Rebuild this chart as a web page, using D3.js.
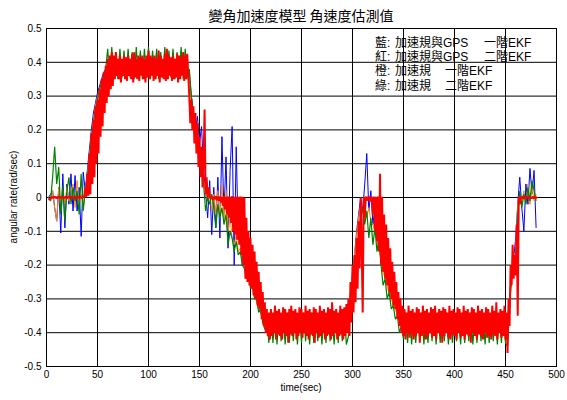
<!DOCTYPE html>
<html>
<head>
<meta charset="utf-8">
<script src="https://cdn.jsdelivr.net/npm/d3@7"></script>
<style>
  body { margin: 0; background: #fff; }
  svg { display: block; }
</style>
</head>
<body>
<div id="chart"></div>
<script>
// ---- data ----
const xTicks = [0, 50, 100, 150, 200, 250, 300, 350, 400, 450, 500];
const xTickLabels = ["0", "50", "100", "150", "200", "250", "300", "350", "400", "450", "500"];
const yTicks = [-0.5, -0.4, -0.3, -0.2, -0.1, 0, 0.1, 0.2, 0.3, 0.4, 0.5];
const yTickLabels = ["-0.5", "-0.4", "-0.3", "-0.2", "-0.1", "0", "0.1", "0.2", "0.3", "0.4", "0.5"];

const titleText = "變角加速度模型 角速度估測值";
const xLabel = "time(sec)";
const yLabel = "angular rate(rad/sec)";
const legendRows = [
  ["藍:", "加速規與GPS", "一階EKF"],
  ["紅:", "加速規與GPS", "二階EKF"],
  ["橙:", "加速規", "一階EKF"],
  ["綠:", "加速規", "二階EKF"]
];

// sample times (sec): red every 1 s, the others every 2 s
const tRed = d3.range(0, 483, 1);
const tSlow = d3.range(0, 481, 2);

// 紅: 加速規與GPS 二階EKF  (t = 0..482, one row per 10 s)
const redRate = [
  null,null,-0.004,-0.006,-0.003,0.002,-0.002,0.003,-0.001,0.002,
  -0.003,0.001,0.003,-0.002,0.002,-0.001,0.003,-0.002,0.001,0.002,
  -0.003,0.002,0.001,-0.002,0.003,-0.001,0.002,-0.003,0.001,0.002,
  -0.002,0.003,-0.001,0.002,0.001,-0.002,0.003,0.004,0.03,0.002,
  0.07,0.005,0.13,0.01,0.19,0.04,0.23,0.06,0.27,0.1,
  0.29,0.13,0.32,0.18,0.35,0.21,0.37,0.25,0.39,0.28,
  0.41,0.3,0.42,0.32,0.43,0.33,0.42,0.35,0.43,0.36,
  0.41,0.35,0.42,0.34,0.41,0.36,0.42,0.35,0.415,0.345,
  0.42,0.36,0.41,0.35,0.425,0.34,0.43,0.355,0.41,0.35,
  0.42,0.345,0.415,0.36,0.42,0.35,0.41,0.34,0.42,0.355,
  0.435,0.35,0.42,0.36,0.415,0.345,0.42,0.35,0.41,0.36,
  0.435,0.34,0.42,0.355,0.41,0.35,0.425,0.345,0.44,0.35,
  0.42,0.36,0.415,0.345,0.42,0.35,0.41,0.355,0.425,0.34,
  0.42,0.35,0.415,0.36,0.43,0.345,0.42,0.35,0.425,0.36,
  0.3,0.22,0.29,0.2,0.27,0.16,0.25,0.13,0.22,0.09,
  0.18,0.06,0.15,0.03,0.11,0.26,0.01,0.06,0.0,0.03,
  0.004,-0.004,0.003,-0.006,0.002,-0.005,0.004,-0.008,0.003,-0.01,
  0.003,-0.015,0.002,-0.025,0.004,-0.035,0.002,-0.05,0.003,-0.06,
  0.002,-0.075,0.004,-0.1,0.002,-0.11,0.003,-0.125,0.002,-0.14,
  0.003,-0.17,0.002,-0.2,0.0,-0.24,-0.06,-0.25,-0.1,-0.26,
  -0.12,-0.27,-0.14,-0.29,-0.16,-0.3,-0.19,-0.32,-0.22,-0.33,
  -0.25,-0.36,-0.28,-0.38,-0.31,-0.4,-0.33,-0.41,-0.34,-0.42,
  -0.33,-0.41,-0.34,-0.4,-0.32,-0.42,-0.335,-0.405,-0.33,-0.41,
  -0.34,-0.42,-0.325,-0.4,-0.33,-0.41,-0.34,-0.43,-0.33,-0.405,
  -0.32,-0.41,-0.335,-0.4,-0.33,-0.42,-0.34,-0.41,-0.325,-0.4,
  -0.33,-0.415,-0.34,-0.4,-0.32,-0.41,-0.335,-0.42,-0.33,-0.405,
  -0.34,-0.41,-0.325,-0.43,-0.33,-0.4,-0.34,-0.415,-0.32,-0.41,
  -0.335,-0.4,-0.33,-0.42,-0.34,-0.41,-0.325,-0.405,-0.33,-0.42,
  -0.31,-0.41,-0.335,-0.4,-0.33,-0.42,-0.34,-0.41,-0.32,-0.405,
  -0.33,-0.42,-0.325,-0.41,-0.315,-0.4,-0.3,-0.41,-0.25,-0.37,
  -0.2,-0.34,-0.17,-0.31,-0.12,-0.27,-0.07,-0.21,0.0,-0.14,
  -0.34,0.002,-0.06,0.003,-0.01,0.002,-0.008,0.003,-0.012,0.002,
  -0.05,0.003,-0.1,0.002,-0.13,0.003,-0.16,0.07,-0.2,0.002,
  -0.22,-0.05,-0.24,-0.08,-0.26,-0.12,-0.28,-0.15,-0.3,-0.19,
  -0.32,-0.22,-0.33,-0.25,-0.36,-0.28,-0.38,-0.3,-0.4,-0.32,
  -0.41,-0.33,-0.42,-0.34,-0.4,-0.32,-0.415,-0.335,-0.405,-0.33,
  -0.42,-0.34,-0.41,-0.325,-0.4,-0.33,-0.43,-0.34,-0.41,-0.32,
  -0.405,-0.335,-0.42,-0.33,-0.41,-0.34,-0.4,-0.325,-0.415,-0.33,
  -0.41,-0.32,-0.42,-0.34,-0.4,-0.33,-0.41,-0.335,-0.43,-0.325,
  -0.41,-0.33,-0.4,-0.34,-0.415,-0.32,-0.42,-0.335,-0.405,-0.33,
  -0.41,-0.34,-0.42,-0.325,-0.4,-0.33,-0.415,-0.34,-0.41,-0.32,
  -0.42,-0.335,-0.405,-0.33,-0.41,-0.34,-0.43,-0.325,-0.4,-0.33,
  -0.41,-0.34,-0.42,-0.32,-0.405,-0.335,-0.41,-0.33,-0.42,-0.34,
  -0.4,-0.325,-0.415,-0.33,-0.41,-0.34,-0.42,-0.32,-0.405,-0.335,
  -0.41,-0.31,-0.42,-0.34,-0.4,-0.33,-0.415,-0.335,-0.41,-0.32,
  -0.42,-0.34,-0.46,-0.3,-0.38,-0.2,-0.26,-0.14,-0.24,-0.17,
  -0.23,-0.08,-0.35,0.003,-0.02,0.002,-0.004,0.003,-0.003,0.002,
  -0.004,0.003,-0.002,0.002,-0.003,0.001,-0.002,0.003,-0.003,0.002,
  -0.002,0.002,null
];

// 藍: 加速規與GPS 一階EKF  (t = 0..480, one row per 20 s)
const blueRate = [
  null,0.0,0.01,0.02,-0.03,-0.07,0.03,-0.105,0.07,-0.09,
  0.04,-0.02,0.07,-0.04,0.065,-0.04,0.03,-0.115,0.075,0.02,
  0.08,0.14,0.2,0.25,0.28,0.31,0.33,0.35,0.37,0.38,
  0.39,0.37,0.41,0.36,0.4,0.38,0.41,0.37,0.39,0.4,
  0.37,0.41,0.38,0.4,0.36,0.41,0.39,0.38,0.4,0.37,
  0.41,0.38,0.4,0.37,0.39,0.41,0.38,0.4,0.37,0.41,
  0.38,0.4,0.37,0.41,0.39,0.38,0.4,0.37,0.41,0.38,
  0.37,0.3,0.25,0.2,0.24,0.16,0.21,0.08,0.02,-0.06,
  0.05,-0.11,0.03,-0.09,0.06,-0.12,0.18,-0.05,0.12,-0.15,
  0.08,0.21,-0.2,0.15,-0.12,-0.06,-0.2,-0.13,-0.22,-0.18,
  -0.26,-0.24,-0.29,-0.3,-0.33,-0.34,-0.36,-0.38,-0.37,-0.39,
  -0.36,-0.38,-0.37,-0.39,-0.36,-0.38,-0.37,-0.39,-0.36,-0.38,
  -0.37,-0.39,-0.36,-0.38,-0.37,-0.39,-0.36,-0.38,-0.37,-0.39,
  -0.36,-0.38,-0.37,-0.39,-0.36,-0.38,-0.37,-0.39,-0.36,-0.38,
  -0.37,-0.39,-0.36,-0.38,-0.37,-0.39,-0.36,-0.38,-0.36,-0.3,
  -0.22,-0.17,-0.1,-0.05,0.0,-0.04,0.04,0.13,-0.04,0.02,
  -0.08,-0.03,-0.12,-0.1,-0.2,-0.2,-0.18,-0.24,-0.25,-0.28,
  -0.3,-0.31,-0.34,-0.35,-0.37,-0.37,-0.38,-0.36,-0.39,-0.37,
  -0.38,-0.36,-0.39,-0.37,-0.38,-0.36,-0.39,-0.37,-0.38,-0.36,
  -0.39,-0.37,-0.38,-0.36,-0.39,-0.37,-0.38,-0.36,-0.39,-0.37,
  -0.38,-0.36,-0.39,-0.37,-0.38,-0.36,-0.39,-0.37,-0.38,-0.36,
  -0.39,-0.37,-0.38,-0.36,-0.39,-0.37,-0.38,-0.36,-0.39,-0.37,
  -0.37,-0.39,-0.36,-0.38,-0.37,-0.4,-0.42,-0.3,-0.22,-0.18,
  -0.12,-0.02,0.06,-0.03,-0.1,0.04,-0.02,0.086,0.01,0.08,
  -0.09
];

// 橙: 加速規 一階EKF
const orangeRate = [
  null,0.0,-0.01,0.02,-0.03,-0.07,0.03,-0.04,0.02,-0.02,
  0.03,-0.01,0.02,0.04,-0.03,0.05,-0.02,0.01,-0.03,0.02,
  0.07,0.12,0.18,0.23,0.27,0.3,0.32,0.34,0.36,0.37,
  0.38,0.39,0.4,0.38,0.39,0.4,0.38,0.39,0.4,0.38,
  0.39,0.4,0.38,0.39,0.4,0.38,0.39,0.4,0.38,0.39,
  0.4,0.38,0.39,0.4,0.38,0.39,0.4,0.38,0.39,0.4,
  0.38,0.39,0.4,0.38,0.39,0.4,0.38,0.39,0.4,0.38,
  0.35,0.28,0.24,0.19,0.16,0.12,0.09,0.05,0.02,-0.01,
  0.02,-0.04,0.01,-0.05,0.02,-0.06,0.04,-0.07,0.02,-0.1,
  -0.06,-0.12,-0.14,-0.11,-0.16,-0.15,-0.19,-0.2,-0.22,-0.23,
  -0.26,-0.27,-0.29,-0.31,-0.33,-0.34,-0.36,-0.37,-0.38,-0.37,
  -0.37,-0.38,-0.36,-0.37,-0.38,-0.36,-0.37,-0.38,-0.36,-0.37,
  -0.38,-0.36,-0.37,-0.38,-0.36,-0.37,-0.38,-0.36,-0.37,-0.38,
  -0.36,-0.37,-0.38,-0.36,-0.37,-0.38,-0.36,-0.37,-0.38,-0.36,
  -0.37,-0.38,-0.36,-0.37,-0.38,-0.36,-0.37,-0.38,-0.34,-0.28,
  -0.23,-0.17,-0.11,-0.06,-0.02,-0.05,-0.02,-0.06,-0.03,-0.07,
  -0.08,-0.1,-0.13,-0.15,-0.19,-0.22,-0.24,-0.26,-0.29,-0.3,
  -0.32,-0.33,-0.35,-0.36,-0.37,-0.38,-0.36,-0.37,-0.38,-0.36,
  -0.37,-0.38,-0.36,-0.37,-0.38,-0.36,-0.37,-0.38,-0.36,-0.37,
  -0.38,-0.36,-0.37,-0.38,-0.36,-0.37,-0.38,-0.36,-0.37,-0.38,
  -0.36,-0.37,-0.38,-0.36,-0.37,-0.38,-0.36,-0.37,-0.38,-0.36,
  -0.37,-0.38,-0.36,-0.37,-0.38,-0.36,-0.37,-0.38,-0.36,-0.37,
  -0.37,-0.38,-0.36,-0.37,-0.38,-0.4,-0.41,-0.31,-0.23,-0.2,
  -0.16,-0.02,0.01,-0.01,0.02,-0.02,0.04,-0.02,0.03,-0.01,
  0.01
];

// 綠: 加速規 二階EKF
const greenRate = [
  null,0.0,-0.01,0.06,0.15,0.04,0.09,-0.05,0.035,-0.07,
  0.02,0.06,-0.02,0.03,-0.01,0.02,-0.05,0.07,-0.04,0.02,
  0.06,0.11,0.17,0.22,0.26,0.29,0.32,0.34,0.36,0.38,
  0.44,0.35,0.445,0.355,0.43,0.35,0.44,0.355,0.435,0.35,
  0.44,0.355,0.43,0.35,0.445,0.355,0.435,0.35,0.44,0.355,
  0.445,0.35,0.435,0.355,0.44,0.35,0.43,0.355,0.445,0.35,
  0.435,0.355,0.44,0.35,0.43,0.355,0.445,0.35,0.44,0.36,
  0.38,0.3,0.25,0.2,0.16,0.12,0.08,0.04,-0.04,0.0,
  -0.02,0.01,-0.03,-0.09,-0.02,-0.06,-0.03,-0.08,-0.05,-0.14,
  -0.1,-0.12,-0.16,-0.13,-0.17,-0.16,-0.2,-0.21,-0.24,-0.22,
  -0.27,-0.26,-0.3,-0.3,-0.34,-0.33,-0.37,-0.39,-0.36,-0.43,
  -0.34,-0.43,-0.35,-0.435,-0.34,-0.425,-0.35,-0.435,-0.34,-0.43,
  -0.35,-0.425,-0.34,-0.435,-0.35,-0.43,-0.34,-0.425,-0.35,-0.435,
  -0.34,-0.43,-0.35,-0.425,-0.34,-0.435,-0.35,-0.43,-0.34,-0.425,
  -0.35,-0.435,-0.34,-0.43,-0.35,-0.425,-0.34,-0.435,-0.41,-0.32,
  -0.28,-0.24,-0.18,-0.12,-0.06,-0.03,-0.08,-0.04,-0.12,-0.06,
  -0.14,-0.09,-0.16,-0.12,-0.2,-0.26,-0.24,-0.3,-0.28,-0.33,
  -0.32,-0.36,-0.35,-0.4,-0.38,-0.42,-0.34,-0.43,-0.35,-0.435,
  -0.34,-0.43,-0.35,-0.425,-0.34,-0.435,-0.35,-0.43,-0.34,-0.425,
  -0.35,-0.435,-0.34,-0.43,-0.35,-0.425,-0.34,-0.435,-0.35,-0.43,
  -0.34,-0.425,-0.35,-0.435,-0.34,-0.43,-0.35,-0.425,-0.34,-0.435,
  -0.35,-0.43,-0.34,-0.425,-0.35,-0.435,-0.34,-0.43,-0.35,-0.425,
  -0.34,-0.435,-0.35,-0.43,-0.34,-0.43,-0.44,-0.32,-0.24,-0.21,
  -0.23,-0.05,0.02,-0.03,0.01,-0.02,0.03,-0.01,0.05,0.02,
  -0.01
];

// ---- layout ----
const width = 567, height = 400;
const plot = {left: 46.5, right: 556.5, top: 28.5, bottom: 366.5};
const legendX = [375, 395, 484];
const legendXShort = [375, 395, 445];

const svg = d3.select("#chart")
  .append("svg")
    .attr("width", width)
    .attr("height", height);

const x = d3.scaleLinear().domain([0, 500]).range([plot.left, plot.right]);
const y = d3.scaleLinear().domain([-0.5, 0.5]).range([plot.bottom, plot.top]);

// grid + tick labels (MATLAB style: grid lines full width, labels outside)
svg.append("g")
  .attr("transform", `translate(0,${plot.bottom})`)
  .call(d3.axisBottom(x)
    .tickValues(xTicks)
    .tickFormat((d, i) => xTickLabels[i])
    .tickSize(-(plot.bottom - plot.top))
    .tickPadding(4)
    .offset(0));

svg.append("g")
  .attr("transform", `translate(${plot.left},0)`)
  .call(d3.axisLeft(y)
    .tickValues(yTicks)
    .tickFormat((d, i) => yTickLabels[i])
    .tickSize(-(plot.right - plot.left))
    .tickPadding(5)
    .offset(0));

svg.selectAll(".domain").remove();
svg.selectAll(".tick line")
  .attr("stroke", "#000")
  .attr("stroke-width", 1);
svg.selectAll(".tick text")
  .attr("fill", "#000")
  .style("font-family", "'Liberation Sans', Arial, sans-serif")
  .style("font-size", "10px");

// series, red (2nd order EKF with GPS) drawn last
const line = d3.line()
  .defined(d => d[1] !== null)
  .x(d => x(d[0]))
  .y(d => y(d[1]));

const series = [
  {color: "#0000ff", w: 1, t: tSlow, v: blueRate},
  {color: "#ff8c00", w: 1, t: tSlow, v: orangeRate},
  {color: "#008000", w: 1.2, t: tSlow, v: greenRate},
  {color: "#ff0000", w: 2, t: tRed, v: redRate}
];

svg.append("g").selectAll("path")
  .data(series)
  .enter().append("path")
    .attr("fill", "none")
    .attr("stroke", d => d.color)
    .attr("stroke-width", d => d.w)
    .attr("stroke-linejoin", "bevel")
    .attr("d", d => line(d.t.map((t, i) => [t, d.v[i]])));

// frame
svg.append("rect")
  .attr("x", plot.left)
  .attr("y", plot.top)
  .attr("width", plot.right - plot.left)
  .attr("height", plot.bottom - plot.top)
  .attr("fill", "none")
  .attr("stroke", "#000")
  .attr("stroke-width", 1);

// title and axis labels
svg.append("text")
  .attr("x", 301)
  .attr("y", 21)
  .attr("text-anchor", "middle")
  .style("font-family", "'Noto Sans CJK TC', sans-serif")
  .style("font-size", "14px")
  .text(titleText);

svg.append("text")
  .attr("x", 301)
  .attr("y", 391)
  .attr("text-anchor", "middle")
  .style("font-family", "'Liberation Sans', Arial, sans-serif")
  .style("font-size", "10px")
  .text(xLabel);

svg.append("text")
  .attr("transform", "translate(17,197) rotate(-90)")
  .attr("text-anchor", "middle")
  .style("font-family", "'Liberation Sans', Arial, sans-serif")
  .style("font-size", "10px")
  .text(yLabel);

// legend (plain text, no box)
const legend = svg.append("g")
  .style("font-family", "'Liberation Sans', 'Noto Sans CJK TC', sans-serif")
  .style("font-size", "12px");

legendRows.forEach((row, r) => {
  const xs = r < 2 ? legendX : legendXShort;
  const txt = legend.append("text").attr("y", 47 + r * 14.2);
  row.forEach((part, j) => {
    txt.append("tspan").attr("x", xs[j]).text(part);
  });
});
</script>
</body>
</html>
